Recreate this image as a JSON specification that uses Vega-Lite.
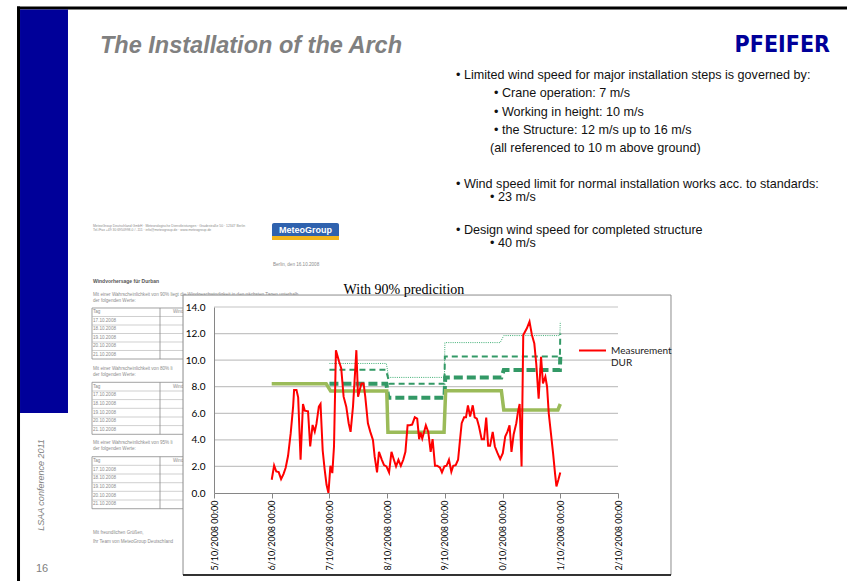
{
  "$schema": "https://vega.github.io/schema/vega-lite/v6.json",
  "width": 404,
  "height": 186,
  "autosize": {"type": "none"},
  "padding": {"left": 214, "top": 307, "right": 229, "bottom": 88},
  "background": "white",
  "config": {"view": {"stroke": null}, "font": "Lato"},
  "datasets": {
    "meas": [
      {"t":"2008-10-16T00:00","v":1.0},{"t":"2008-10-16T01:00","v":2.07},{"t":"2008-10-16T01:54","v":1.62},{"t":"2008-10-16T02:54","v":1.57},{"t":"2008-10-16T03:54","v":1.05},{"t":"2008-10-16T04:54","v":1.42},{"t":"2008-10-16T05:48","v":1.9},{"t":"2008-10-16T06:48","v":2.8},{"t":"2008-10-16T07:54","v":4.5},{"t":"2008-10-16T08:54","v":6.5},{"t":"2008-10-16T09:18","v":7.75},{"t":"2008-10-16T10:18","v":7.75},{"t":"2008-10-16T11:00","v":7.2},{"t":"2008-10-16T12:00","v":2.5},{"t":"2008-10-16T13:00","v":6.7},{"t":"2008-10-16T13:45","v":6.2},{"t":"2008-10-16T15:06","v":6.15},{"t":"2008-10-16T16:00","v":3.5},{"t":"2008-10-16T17:00","v":5.12},{"t":"2008-10-16T17:54","v":4.62},{"t":"2008-10-16T18:36","v":5.2},{"t":"2008-10-16T19:36","v":6.5},{"t":"2008-10-16T20:18","v":6.7},{"t":"2008-10-16T21:12","v":3.2},{"t":"2008-10-16T22:00","v":1.8},{"t":"2008-10-16T22:48","v":0.62},{"t":"2008-10-16T23:36","v":0.0},
      {"t":"2008-10-17T00:24","v":2.05},{"t":"2008-10-17T01:12","v":1.5},{"t":"2008-10-17T01:54","v":3.5},{"t":"2008-10-17T02:42","v":10.75},{"t":"2008-10-17T04:00","v":9.9},{"t":"2008-10-17T04:54","v":9.4},{"t":"2008-10-17T05:54","v":7.25},{"t":"2008-10-17T07:00","v":6.5},{"t":"2008-10-17T08:00","v":5.25},{"t":"2008-10-17T08:48","v":4.6},{"t":"2008-10-17T09:48","v":6.5},{"t":"2008-10-17T10:48","v":9.5},{"t":"2008-10-17T11:12","v":10.75},{"t":"2008-10-17T11:54","v":7.25},{"t":"2008-10-17T12:36","v":7.75},{"t":"2008-10-17T13:18","v":8.25},{"t":"2008-10-17T14:12","v":8.25},{"t":"2008-10-17T14:54","v":7.25},{"t":"2008-10-17T16:00","v":5.25},{"t":"2008-10-17T17:00","v":4.6},{"t":"2008-10-17T18:06","v":4.0},{"t":"2008-10-17T18:48","v":2.75},{"t":"2008-10-17T19:48","v":1.55},{"t":"2008-10-17T20:36","v":3.1},{"t":"2008-10-17T21:48","v":2.5},{"t":"2008-10-17T22:42","v":2.1},{"t":"2008-10-17T23:42","v":2.0},
      {"t":"2008-10-18T00:48","v":1.55},{"t":"2008-10-18T01:48","v":3.1},{"t":"2008-10-18T02:48","v":2.5},{"t":"2008-10-18T03:42","v":2.0},{"t":"2008-10-18T04:42","v":2.5},{"t":"2008-10-18T05:42","v":2.05},{"t":"2008-10-18T06:42","v":2.5},{"t":"2008-10-18T07:36","v":3.1},{"t":"2008-10-18T08:30","v":5.1},{"t":"2008-10-18T09:24","v":5.1},{"t":"2008-10-18T10:24","v":5.15},{"t":"2008-10-18T11:30","v":5.7},{"t":"2008-10-18T12:30","v":5.6},{"t":"2008-10-18T13:18","v":4.05},{"t":"2008-10-18T13:54","v":4.55},{"t":"2008-10-18T14:36","v":4.1},{"t":"2008-10-18T15:18","v":4.55},{"t":"2008-10-18T16:06","v":5.1},{"t":"2008-10-18T17:06","v":4.6},{"t":"2008-10-18T18:06","v":3.1},{"t":"2008-10-18T18:54","v":4.05},{"t":"2008-10-18T19:54","v":2.05},{"t":"2008-10-18T20:48","v":2.05},{"t":"2008-10-18T22:00","v":1.9},{"t":"2008-10-18T22:48","v":1.55},{"t":"2008-10-18T23:48","v":2.0},
      {"t":"2008-10-19T00:42","v":2.05},{"t":"2008-10-19T01:42","v":2.5},{"t":"2008-10-19T02:42","v":1.6},{"t":"2008-10-19T03:30","v":2.05},{"t":"2008-10-19T04:30","v":2.1},{"t":"2008-10-19T05:30","v":2.5},{"t":"2008-10-19T06:18","v":4.0},{"t":"2008-10-19T07:00","v":5.25},{"t":"2008-10-19T08:00","v":5.7},{"t":"2008-10-19T08:48","v":5.7},{"t":"2008-10-19T09:36","v":6.6},{"t":"2008-10-19T10:30","v":5.75},{"t":"2008-10-19T11:36","v":6.6},{"t":"2008-10-19T12:24","v":5.7},{"t":"2008-10-19T13:18","v":5.6},{"t":"2008-10-19T14:12","v":5.0},{"t":"2008-10-19T15:18","v":4.05},{"t":"2008-10-19T16:18","v":4.05},{"t":"2008-10-19T17:12","v":5.67},{"t":"2008-10-19T18:00","v":3.55},{"t":"2008-10-19T18:48","v":3.55},{"t":"2008-10-19T19:54","v":4.6},{"t":"2008-10-19T20:48","v":3.5},{"t":"2008-10-19T21:54","v":3.0},{"t":"2008-10-19T23:00","v":2.55},
      {"t":"2008-10-20T00:06","v":3.0},{"t":"2008-10-20T01:06","v":4.25},{"t":"2008-10-20T02:00","v":4.6},{"t":"2008-10-20T02:54","v":5.1},{"t":"2008-10-20T03:42","v":3.1},{"t":"2008-10-20T04:36","v":4.4},{"t":"2008-10-20T05:42","v":5.25},{"t":"2008-10-20T06:24","v":6.1},{"t":"2008-10-20T07:06","v":6.7},{"t":"2008-10-20T07:54","v":2.0},{"t":"2008-10-20T08:36","v":11.9},{"t":"2008-10-20T10:06","v":12.4},{"t":"2008-10-20T11:12","v":12.9},{"t":"2008-10-20T12:12","v":11.9},{"t":"2008-10-20T13:12","v":11.25},{"t":"2008-10-20T14:00","v":9.75},{"t":"2008-10-20T15:00","v":7.1},{"t":"2008-10-20T16:00","v":10.25},{"t":"2008-10-20T16:48","v":8.25},{"t":"2008-10-20T17:48","v":8.75},{"t":"2008-10-20T18:30","v":8.0},{"t":"2008-10-20T19:12","v":6.0},{"t":"2008-10-20T20:06","v":4.5},{"t":"2008-10-20T21:00","v":3.0},{"t":"2008-10-20T21:48","v":1.5},{"t":"2008-10-20T22:24","v":0.5},{"t":"2008-10-20T23:12","v":1.0},{"t":"2008-10-21T00:00","v":1.55}
    ],
    "fc": [
      {"s":"F1","t":"2008-10-16T00:00","v":8.22},{"s":"F1","t":"2008-10-16T22:40","v":8.22},{"s":"F1","t":"2008-10-17T00:30","v":7.67},{"s":"F1","t":"2008-10-17T23:50","v":7.67},{"s":"F1","t":"2008-10-18T00:20","v":4.57},{"s":"F1","t":"2008-10-18T23:40","v":4.57},{"s":"F1","t":"2008-10-19T00:20","v":7.7},{"s":"F1","t":"2008-10-19T23:30","v":7.7},{"s":"F1","t":"2008-10-20T00:30","v":6.25},{"s":"F1","t":"2008-10-20T23:00","v":6.25},{"s":"F1","t":"2008-10-21T00:00","v":6.7},
      {"s":"F2","t":"2008-10-17T00:00","v":8.22},{"s":"F2","t":"2008-10-17T23:40","v":8.22},{"s":"F2","t":"2008-10-18T00:30","v":7.17},{"s":"F2","t":"2008-10-18T23:50","v":7.17},{"s":"F2","t":"2008-10-19T00:10","v":8.7},{"s":"F2","t":"2008-10-19T23:30","v":8.7},{"s":"F2","t":"2008-10-20T00:30","v":9.25},{"s":"F2","t":"2008-10-20T23:50","v":9.25},{"s":"F2","t":"2008-10-21T00:00","v":10.25},
      {"s":"F3","t":"2008-10-17T00:00","v":9.27},{"s":"F3","t":"2008-10-17T23:30","v":9.27},{"s":"F3","t":"2008-10-18T01:00","v":8.22},{"s":"F3","t":"2008-10-18T23:50","v":8.22},{"s":"F3","t":"2008-10-19T00:00","v":10.27},{"s":"F3","t":"2008-10-20T23:50","v":10.27},{"s":"F3","t":"2008-10-21T00:00","v":12.0},
      {"s":"F4","t":"2008-10-17T00:00","v":9.75},{"s":"F4","t":"2008-10-17T23:40","v":9.75},{"s":"F4","t":"2008-10-18T00:40","v":8.7},{"s":"F4","t":"2008-10-18T23:50","v":8.7},{"s":"F4","t":"2008-10-19T00:00","v":11.32},{"s":"F4","t":"2008-10-19T23:00","v":11.32},{"s":"F4","t":"2008-10-20T00:30","v":11.85},{"s":"F4","t":"2008-10-20T23:50","v":11.85},{"s":"F4","t":"2008-10-21T00:00","v":12.9}
    ],
    "rects": [
      {"kind":"frame","t":"2008-10-11T14:05","t2":"2008-10-26T00:00","v":36.62,"v2":36.39},
      {"kind":"frame","t":"2008-10-11T14:05","t2":"2008-10-11T15:20","v":36.62,"v2":-7.0},
      {"kind":"blue","t":"2008-10-11T15:20","t2":"2008-10-12T11:17","v":36.39,"v2":6.02},
      {"kind":"table","t":"2008-10-12T21:16","t2":"2008-10-14T18:11","v":13.925,"v2":10.086},
      {"kind":"table","t":"2008-10-12T21:16","t2":"2008-10-14T18:11","v":8.332,"v2":4.418},
      {"kind":"table","t":"2008-10-12T21:16","t2":"2008-10-14T18:11","v":2.732,"v2":-1.182},
      {"kind":"logo","t":"2008-10-16T00:07","t2":"2008-10-17T03:59","v":20.32,"v2":19.04},
      {"kind":"band","t":"2008-10-16T00:07","t2":"2008-10-17T03:59","v":19.34,"v2":19.04},
      {"kind":"box","t":"2008-10-14T11:07","t2":"2008-10-22T22:02","v":14.9,"v2":-6.17}
    ],
    "hrules": [
      {"kind":"grid","t":"2008-10-15T00:00","t2":"2008-10-22T00:00","v":2},
      {"kind":"grid","t":"2008-10-15T00:00","t2":"2008-10-22T00:00","v":4},
      {"kind":"grid","t":"2008-10-15T00:00","t2":"2008-10-22T00:00","v":6},
      {"kind":"grid","t":"2008-10-15T00:00","t2":"2008-10-22T00:00","v":8},
      {"kind":"grid","t":"2008-10-15T00:00","t2":"2008-10-22T00:00","v":10},
      {"kind":"grid","t":"2008-10-15T00:00","t2":"2008-10-22T00:00","v":12},
      {"kind":"grid","t":"2008-10-15T00:00","t2":"2008-10-22T00:00","v":14},
      {"kind":"tab","t":"2008-10-12T21:16","t2":"2008-10-14T18:11","v":13.285},
      {"kind":"tab","t":"2008-10-12T21:16","t2":"2008-10-14T18:11","v":12.645},
      {"kind":"tab","t":"2008-10-12T21:16","t2":"2008-10-14T18:11","v":12.005},
      {"kind":"tab","t":"2008-10-12T21:16","t2":"2008-10-14T18:11","v":11.366},
      {"kind":"tab","t":"2008-10-12T21:16","t2":"2008-10-14T18:11","v":10.726},
      {"kind":"tab","t":"2008-10-12T21:16","t2":"2008-10-14T18:11","v":7.677},
      {"kind":"tab","t":"2008-10-12T21:16","t2":"2008-10-14T18:11","v":7.03},
      {"kind":"tab","t":"2008-10-12T21:16","t2":"2008-10-14T18:11","v":6.375},
      {"kind":"tab","t":"2008-10-12T21:16","t2":"2008-10-14T18:11","v":5.72},
      {"kind":"tab","t":"2008-10-12T21:16","t2":"2008-10-14T18:11","v":5.073},
      {"kind":"tab","t":"2008-10-12T21:16","t2":"2008-10-14T18:11","v":2.085},
      {"kind":"tab","t":"2008-10-12T21:16","t2":"2008-10-14T18:11","v":1.43},
      {"kind":"tab","t":"2008-10-12T21:16","t2":"2008-10-14T18:11","v":0.775},
      {"kind":"tab","t":"2008-10-12T21:16","t2":"2008-10-14T18:11","v":0.128},
      {"kind":"tab","t":"2008-10-12T21:16","t2":"2008-10-14T18:11","v":-0.527},
      {"kind":"boxbottom","t":"2008-10-14T11:07","t2":"2008-10-22T22:02","v":-6.17}
    ],
    "vrules": [
      {"t":"2008-10-14T01:33","v":13.925,"v2":10.086},
      {"t":"2008-10-14T01:33","v":8.332,"v2":4.418},
      {"t":"2008-10-14T01:33","v":2.732,"v2":-1.182}
    ],
    "texts": [
      {"kind":"head","t":"2008-10-12T21:41","v":20.1,"text":"MeteoGroup Deutschland GmbH · Meteorologische Dienstleistungen · Gradestraße 50 · 12347 Berlin"},
      {"kind":"head","t":"2008-10-12T21:41","v":19.8,"text":"Tel./Fax +49 30 6950998-0 / -111 · info@meteogroup.de · www.meteogroup.de"},
      {"kind":"doc","t":"2008-10-16T00:32","v":17.16,"text":"Berlin, den 16.10.2008"},
      {"kind":"bold","t":"2008-10-12T21:41","v":15.96,"text":"Windvorhersage für Durban"},
      {"kind":"doc","t":"2008-10-12T21:41","v":14.9,"text":"Mit einer Wahrscheinlichkeit von 90% liegt die Windgeschwindigkeit in den nächsten Tagen unterhalb"},
      {"kind":"doc","t":"2008-10-12T21:41","v":14.45,"text":"der folgenden Werte:"},
      {"kind":"doc","t":"2008-10-12T21:41","v":13.62,"text":"Tag"},
      {"kind":"doc","t":"2008-10-14T06:57","v":13.62,"text":"Wind"},
      {"kind":"doc","t":"2008-10-12T21:41","v":12.95,"text":"17.10.2008"},
      {"kind":"doc","t":"2008-10-12T21:41","v":12.31,"text":"18.10.2008"},
      {"kind":"doc","t":"2008-10-12T21:41","v":11.67,"text":"19.10.2008"},
      {"kind":"doc","t":"2008-10-12T21:41","v":11.07,"text":"20.10.2008"},
      {"kind":"doc","t":"2008-10-12T21:41","v":10.39,"text":"21.10.2008"},
      {"kind":"doc","t":"2008-10-12T21:41","v":9.33,"text":"Mit einer Wahrscheinlichkeit von 80% li"},
      {"kind":"doc","t":"2008-10-12T21:41","v":8.88,"text":"der folgenden Werte:"},
      {"kind":"doc","t":"2008-10-12T21:41","v":8.01,"text":"Tag"},
      {"kind":"doc","t":"2008-10-14T06:57","v":8.01,"text":"Wind"},
      {"kind":"doc","t":"2008-10-12T21:41","v":7.35,"text":"17.10.2008"},
      {"kind":"doc","t":"2008-10-12T21:41","v":6.7,"text":"18.10.2008"},
      {"kind":"doc","t":"2008-10-12T21:41","v":6.05,"text":"19.10.2008"},
      {"kind":"doc","t":"2008-10-12T21:41","v":5.4,"text":"20.10.2008"},
      {"kind":"doc","t":"2008-10-12T21:41","v":4.74,"text":"21.10.2008"},
      {"kind":"doc","t":"2008-10-12T21:41","v":3.74,"text":"Mit einer Wahrscheinlichkeit von 95% li"},
      {"kind":"doc","t":"2008-10-12T21:41","v":3.29,"text":"der folgenden Werte:"},
      {"kind":"doc","t":"2008-10-12T21:41","v":2.41,"text":"Tag"},
      {"kind":"doc","t":"2008-10-14T06:57","v":2.41,"text":"Wind"},
      {"kind":"doc","t":"2008-10-12T21:41","v":1.75,"text":"17.10.2008"},
      {"kind":"doc","t":"2008-10-12T21:41","v":1.11,"text":"18.10.2008"},
      {"kind":"doc","t":"2008-10-12T21:41","v":0.45,"text":"19.10.2008"},
      {"kind":"doc","t":"2008-10-12T21:41","v":-0.2,"text":"20.10.2008"},
      {"kind":"doc","t":"2008-10-12T21:41","v":-0.85,"text":"21.10.2008"},
      {"kind":"doc","t":"2008-10-12T21:41","v":-3.03,"text":"Mit freundlichen Grüßen,"},
      {"kind":"doc","t":"2008-10-12T21:41","v":-3.67,"text":"Ihr Team von MeteoGroup Deutschland"},
      {"kind":"logo","t":"2008-10-16T14:03","v":19.8,"text":"MeteoGroup"},
      {"kind":"charttitle","t":"2008-10-18T07:00","v":14.98,"text":"With 90% predicition"},
      {"kind":"title","t":"2008-10-13T00:36","v":33.12,"text":"The Installation of the Arch"},
      {"kind":"brand","t":"2008-10-25T16:09","v":33.19,"text":"PFEIFER"},
      {"kind":"bullet","t":"2008-10-19T04:38","v":31.46,"text":"• Limited wind speed for major installation steps is governed by:"},
      {"kind":"bullet","t":"2008-10-19T20:26","v":30.09,"text":"• Crane operation: 7 m/s"},
      {"kind":"bullet","t":"2008-10-19T20:26","v":28.7,"text":"• Working in height: 10 m/s"},
      {"kind":"bullet","t":"2008-10-19T20:26","v":27.32,"text":"• the Structure: 12 m/s up to 16 m/s"},
      {"kind":"bullet","t":"2008-10-19T18:46","v":25.97,"text":"(all referenced to 10 m above ground)"},
      {"kind":"bullet","t":"2008-10-19T04:38","v":23.26,"text":"• Wind speed limit for normal installation works acc. to standards:"},
      {"kind":"bullet","t":"2008-10-19T18:46","v":22.28,"text":"• 23 m/s"},
      {"kind":"bullet","t":"2008-10-19T04:38","v":19.8,"text":"• Design wind speed for completed structure"},
      {"kind":"bullet","t":"2008-10-19T18:46","v":18.82,"text":"• 40 m/s"},
      {"kind":"side","t":"2008-10-12T00:04","v":0.6,"text":"LSAA conference 2011"},
      {"kind":"page","t":"2008-10-12T00:29","v":-5.72,"text":"16"}
    ]
  },
  "encoding": {
    "x": {
      "field": "t", "type": "temporal",
      "scale": {"domain": [{"year": 2008, "month": 10, "date": 15}, {"year": 2008, "month": 10, "date": 22}], "nice": false},
      "axis": {
        "title": null, "grid": false, "zindex": 1,
        "values": [{"year": 2008, "month": 10, "date": 15}, {"year": 2008, "month": 10, "date": 16}, {"year": 2008, "month": 10, "date": 17}, {"year": 2008, "month": 10, "date": 18}, {"year": 2008, "month": 10, "date": 19}, {"year": 2008, "month": 10, "date": 20}, {"year": 2008, "month": 10, "date": 21}, {"year": 2008, "month": 10, "date": 22}],
        "labelExpr": "substring(timeFormat(datum.value, '%d/%m/%Y %H:%M'), 1)",
        "labelAngle": 270, "labelFont": "Lato", "labelFontSize": 9, "labelColor": "#000000",
        "labelFlush": false, "labelOverlap": false, "labelPadding": 2,
        "tickSize": 5, "tickColor": "#868686", "domainColor": "#868686"
      }
    },
    "y": {
      "field": "v", "type": "quantitative",
      "scale": {"domain": [0, 14], "nice": false},
      "axis": {
        "title": null, "grid": false, "zindex": 1, "ticks": false,
        "values": [0, 2, 4, 6, 8, 10, 12, 14], "format": ".1f",
        "labelFont": "Lato", "labelFontSize": 10, "labelColor": "#000000", "labelPadding": 9,
        "domainColor": "#868686"
      }
    }
  },
  "layer": [
    {"data": {"name": "rects"}, "transform": [{"filter": "datum.kind === 'frame'"}], "mark": {"type": "rect", "color": "#000000"}, "encoding": {"x2": {"field": "t2"}, "y2": {"field": "v2"}}},
    {"data": {"name": "rects"}, "transform": [{"filter": "datum.kind === 'blue'"}], "mark": {"type": "rect", "color": "#000099"}, "encoding": {"x2": {"field": "t2"}, "y2": {"field": "v2"}}},
    {"data": {"name": "rects"}, "transform": [{"filter": "datum.kind === 'table'"}], "mark": {"type": "rect", "fill": null, "stroke": "#8a8a8a", "strokeWidth": 0.8}, "encoding": {"x2": {"field": "t2"}, "y2": {"field": "v2"}}},
    {"data": {"name": "hrules"}, "transform": [{"filter": "datum.kind === 'tab'"}], "mark": {"type": "rule", "color": "#b0b0b0", "strokeWidth": 0.6}, "encoding": {"x2": {"field": "t2"}}},
    {"data": {"name": "vrules"}, "mark": {"type": "rule", "color": "#8a8a8a", "strokeWidth": 0.8}, "encoding": {"y2": {"field": "v2"}}},
    {"data": {"name": "texts"}, "transform": [{"filter": "datum.kind === 'head'"}], "mark": {"type": "text", "font": "Liberation Sans", "fontSize": 3.4, "color": "#8c8c8c", "align": "left", "baseline": "middle"}, "encoding": {"text": {"field": "text"}}},
    {"data": {"name": "texts"}, "transform": [{"filter": "datum.kind === 'doc'"}], "mark": {"type": "text", "font": "Liberation Sans", "fontSize": 4.6, "color": "#8c8c8c", "align": "left", "baseline": "middle"}, "encoding": {"text": {"field": "text"}}},
    {"data": {"name": "texts"}, "transform": [{"filter": "datum.kind === 'bold'"}], "mark": {"type": "text", "font": "Liberation Sans", "fontSize": 5, "fontWeight": "bold", "color": "#555555", "align": "left", "baseline": "middle"}, "encoding": {"text": {"field": "text"}}},
    {"data": {"name": "rects"}, "transform": [{"filter": "datum.kind === 'logo'"}], "mark": {"type": "rect", "color": "#2f62ae", "cornerRadius": 2}, "encoding": {"x2": {"field": "t2"}, "y2": {"field": "v2"}}},
    {"data": {"name": "rects"}, "transform": [{"filter": "datum.kind === 'band'"}], "mark": {"type": "rect", "color": "#f2b51c"}, "encoding": {"x2": {"field": "t2"}, "y2": {"field": "v2"}}},
    {"data": {"name": "texts"}, "transform": [{"filter": "datum.kind === 'logo'"}], "mark": {"type": "text", "font": "Liberation Sans", "fontSize": 9, "fontWeight": "bold", "color": "#ffffff", "align": "center", "baseline": "middle"}, "encoding": {"text": {"field": "text"}}},
    {"data": {"name": "rects"}, "transform": [{"filter": "datum.kind === 'box'"}], "mark": {"type": "rect", "fill": "#ffffff", "stroke": "#8c8c8c", "strokeWidth": 1}, "encoding": {"x2": {"field": "t2"}, "y2": {"field": "v2"}}},
    {"data": {"name": "hrules"}, "transform": [{"filter": "datum.kind === 'boxbottom'"}], "mark": {"type": "rule", "color": "#000000", "strokeWidth": 1.6}, "encoding": {"x2": {"field": "t2"}}},
    {"data": {"name": "texts"}, "transform": [{"filter": "datum.kind === 'charttitle'"}], "mark": {"type": "text", "font": "Liberation Serif", "fontSize": 14, "color": "#000000", "align": "center", "baseline": "alphabetic"}, "encoding": {"text": {"field": "text"}}},
    {"data": {"name": "hrules"}, "transform": [{"filter": "datum.kind === 'grid'"}], "mark": {"type": "rule", "color": "#c4c4c4", "strokeWidth": 1.2}, "encoding": {"x2": {"field": "t2"}}},
    {"data": {"name": "fc"}, "transform": [{"filter": "datum.s === 'F4'"}], "mark": {"type": "line", "color": "#3fae74", "strokeWidth": 1, "strokeDash": [1, 1.2]}, "encoding": {}},
    {"data": {"name": "fc"}, "transform": [{"filter": "datum.s === 'F3'"}], "mark": {"type": "line", "color": "#339966", "strokeWidth": 2, "strokeDash": [6, 4]}, "encoding": {}},
    {"data": {"name": "fc"}, "transform": [{"filter": "datum.s === 'F2'"}], "mark": {"type": "line", "color": "#339966", "strokeWidth": 4, "strokeDash": [9, 4]}, "encoding": {}},
    {"data": {"name": "fc"}, "transform": [{"filter": "datum.s === 'F1'"}], "mark": {"type": "line", "color": "#9bbb59", "strokeWidth": 3.5}, "encoding": {}},
    {"data": {"name": "meas"}, "mark": {"type": "line", "strokeWidth": 2},
     "encoding": {"color": {"datum": "Measurement DUR", "type": "nominal", "scale": {"range": ["#ff0000"]},
       "legend": {"title": null, "orient": "none", "legendX": 364, "legendY": 29, "zindex": 2, "padding": 0,
         "symbolType": "stroke", "symbolSize": 729, "symbolStrokeWidth": 2, "symbolStrokeColor": "#ff0000",
         "labelExpr": "['Measurement', 'DUR']", "labelFont": "Lato", "labelFontSize": 10, "labelColor": "#222222", "labelOffset": 4,
         "labelBaseline": "middle",
         "encode": {"labels": {"update": {"lineHeight": {"value": 12}}}}}}}},
    {"data": {"name": "texts"}, "transform": [{"filter": "datum.kind === 'title'"}], "mark": {"type": "text", "font": "Liberation Sans", "fontSize": 23.5, "fontWeight": "bold", "fontStyle": "italic", "color": "#808080", "align": "left", "baseline": "alphabetic"}, "encoding": {"text": {"field": "text"}}},
    {"data": {"name": "texts"}, "transform": [{"filter": "datum.kind === 'brand'"}], "mark": {"type": "text", "font": "Liberation Sans Narrow, DejaVu Sans Condensed, Liberation Sans", "fontSize": 23, "fontWeight": "bold", "color": "#000099", "align": "right", "baseline": "alphabetic"}, "encoding": {"text": {"field": "text"}}},
    {"data": {"name": "texts"}, "transform": [{"filter": "datum.kind === 'bullet'"}], "mark": {"type": "text", "font": "Liberation Sans", "fontSize": 12.6, "color": "#111111", "align": "left", "baseline": "middle"}, "encoding": {"text": {"field": "text"}}},
    {"data": {"name": "texts"}, "transform": [{"filter": "datum.kind === 'side'"}], "mark": {"type": "text", "font": "Liberation Sans", "fontSize": 9, "fontStyle": "italic", "color": "#808080", "align": "center", "baseline": "middle", "angle": 270}, "encoding": {"text": {"field": "text"}}},
    {"data": {"name": "texts"}, "transform": [{"filter": "datum.kind === 'page'"}], "mark": {"type": "text", "font": "Liberation Sans", "fontSize": 11, "color": "#808080", "align": "center", "baseline": "middle"}, "encoding": {"text": {"field": "text"}}}
  ]
}
